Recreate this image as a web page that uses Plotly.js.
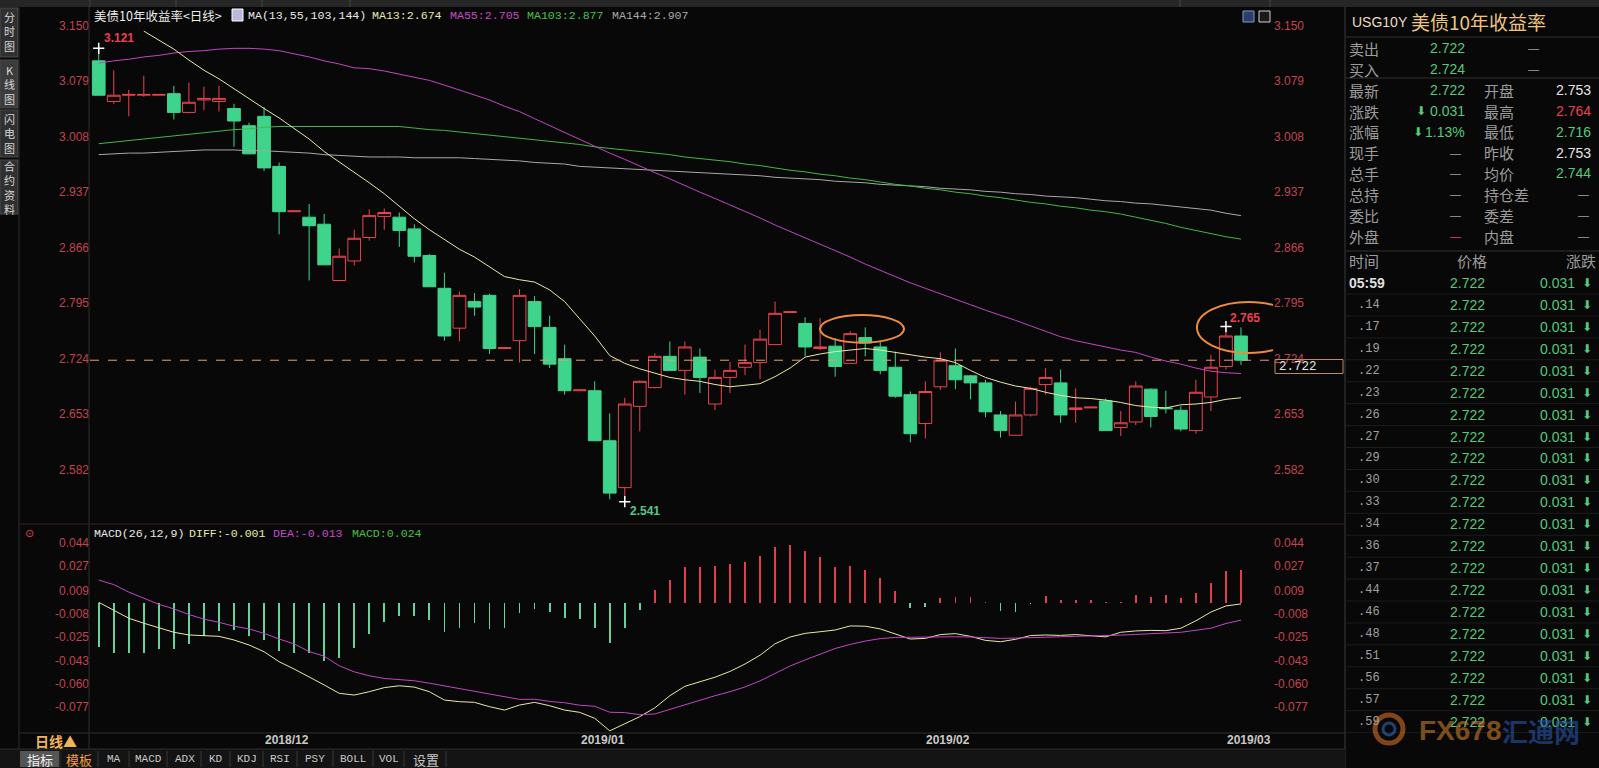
<!DOCTYPE html>
<html><head><meta charset="utf-8">
<script src="https://cdn.plot.ly/plotly-3.0.1.min.js"></script>
<style>html,body{margin:0;padding:0;background:#080808;overflow:hidden}#chart{width:1599px;height:768px}</style>
</head><body><div id="chart"></div>
<script>
// ---------------- DATA ----------------
const dates = ['2018-11-16','2018-11-19','2018-11-20','2018-11-21','2018-11-22','2018-11-23','2018-11-26','2018-11-27','2018-11-28','2018-11-29','2018-11-30',
'2018-12-03','2018-12-04','2018-12-05','2018-12-06','2018-12-07','2018-12-10','2018-12-11','2018-12-12','2018-12-13','2018-12-14','2018-12-17','2018-12-18','2018-12-19','2018-12-20','2018-12-21','2018-12-24','2018-12-25','2018-12-26','2018-12-27','2018-12-28','2018-12-31',
'2019-01-01','2019-01-02','2019-01-03','2019-01-04','2019-01-07','2019-01-08','2019-01-09','2019-01-10','2019-01-11','2019-01-14','2019-01-15','2019-01-16','2019-01-17','2019-01-18','2019-01-21','2019-01-22','2019-01-23','2019-01-24','2019-01-25','2019-01-28','2019-01-29','2019-01-30','2019-01-31',
'2019-02-01','2019-02-04','2019-02-05','2019-02-06','2019-02-07','2019-02-08','2019-02-11','2019-02-12','2019-02-13','2019-02-14','2019-02-15','2019-02-18','2019-02-19','2019-02-20','2019-02-21','2019-02-22','2019-02-25','2019-02-26','2019-02-27','2019-02-28',
'2019-03-01','2019-03-04'];

const open = [3.105,3.053,3.061,3.061,3.061,3.063,3.039,3.055,3.053,3.044,
3.022,3.034,2.970,2.912,2.905,2.896,2.824,2.849,2.879,2.906,
2.905,2.890,2.856,2.814,2.763,2.797,2.805,2.737,2.747,2.797,
2.764,2.724,2.683,2.683,2.619,2.559,2.663,2.687,2.727,2.709,
2.726,2.666,2.700,2.713,2.719,2.742,2.783,2.769,2.737,2.740,
2.718,2.751,2.739,2.713,2.678,2.641,2.688,2.715,2.702,2.693,
2.652,2.626,2.652,2.691,2.693,2.659,2.661,2.670,2.636,2.643,
2.685,2.661,2.658,2.632,2.675,2.714,2.753];
const high = [3.121,3.093,3.068,3.086,3.062,3.073,3.077,3.072,3.073,3.050,
3.026,3.046,2.975,2.913,2.922,2.909,2.865,2.889,2.915,2.916,
2.911,2.896,2.858,2.834,2.810,2.808,2.807,2.738,2.813,2.804,
2.779,2.742,2.684,2.695,2.654,2.674,2.696,2.731,2.746,2.746,
2.737,2.710,2.720,2.742,2.761,2.797,2.784,2.777,2.776,2.750,
2.759,2.764,2.747,2.733,2.682,2.695,2.732,2.737,2.703,2.697,
2.657,2.669,2.688,2.712,2.710,2.686,2.662,2.673,2.657,2.695,
2.686,2.683,2.663,2.697,2.729,2.765,2.764];
const low = [3.061,3.050,3.034,3.059,3.061,3.030,3.038,3.042,3.040,2.995,
2.986,2.964,2.883,2.912,2.824,2.844,2.824,2.843,2.875,2.889,
2.867,2.847,2.816,2.747,2.746,2.779,2.730,2.737,2.719,2.730,
2.712,2.678,2.683,2.619,2.544,2.541,2.631,2.686,2.709,2.678,
2.680,2.658,2.680,2.703,2.698,2.742,2.783,2.727,2.735,2.701,
2.718,2.727,2.704,2.674,2.617,2.622,2.684,2.685,2.672,2.649,
2.623,2.626,2.650,2.678,2.642,2.642,2.661,2.632,2.625,2.639,
2.636,2.654,2.631,2.628,2.657,2.710,2.716];
const close = [3.061,3.061,3.062,3.062,3.062,3.039,3.052,3.057,3.057,3.028,
2.986,2.968,2.912,2.913,2.894,2.844,2.855,2.878,2.907,2.911,
2.888,2.855,2.816,2.753,2.805,2.790,2.737,2.738,2.805,2.765,
2.717,2.683,2.684,2.619,2.552,2.666,2.695,2.727,2.709,2.739,
2.700,2.700,2.709,2.719,2.749,2.782,2.784,2.739,2.739,2.714,
2.756,2.744,2.709,2.676,2.628,2.682,2.722,2.697,2.693,2.656,
2.632,2.652,2.686,2.700,2.652,2.661,2.662,2.632,2.642,2.689,
2.650,2.660,2.634,2.681,2.713,2.753,2.722];

const ma13 = [null,null,null,3.143,3.132,3.120,3.106,3.093,3.082,3.069,
3.057,3.044,3.032,3.019,3.005,2.989,2.976,2.962,2.949,2.935,
2.919,2.903,2.889,2.876,2.864,2.854,2.841,2.829,2.825,2.822,
2.812,2.797,2.775,2.753,2.728,2.718,2.711,2.705,2.700,2.697,
2.695,2.691,2.688,2.690,2.692,2.701,2.712,2.726,2.730,2.733,
2.735,2.737,2.735,2.732,2.729,2.726,2.724,2.719,2.709,2.700,
2.694,2.689,2.686,2.681,2.677,2.674,2.673,2.671,2.668,2.664,
2.662,2.661,2.665,2.666,2.668,2.672,2.674];
const ma55 = [3.102,3.105,3.107,3.110,3.112,3.115,3.117,3.118,3.120,3.121,
3.121,3.120,3.118,3.114,3.110,3.105,3.101,3.096,3.095,3.092,
3.088,3.084,3.080,3.074,3.068,3.062,3.055,3.047,3.040,3.031,
3.022,3.013,3.004,2.995,2.987,2.979,2.970,2.962,2.954,2.945,
2.937,2.929,2.921,2.912,2.904,2.895,2.887,2.878,2.871,2.862,
2.854,2.845,2.837,2.828,2.821,2.814,2.807,2.799,2.793,2.786,
2.780,2.773,2.766,2.759,2.752,2.747,2.743,2.739,2.735,2.732,
2.726,2.721,2.717,2.712,2.708,2.706,2.705];
const ma103 = [2.999,3.001,3.003,3.005,3.007,3.009,3.011,3.013,3.015,3.017,
3.018,3.020,3.021,3.021,3.021,3.021,3.021,3.021,3.021,3.021,
3.021,3.019,3.017,3.016,3.014,3.012,3.010,3.008,3.006,3.004,
3.002,3.000,2.998,2.995,2.993,2.991,2.989,2.987,2.985,2.982,
2.980,2.978,2.976,2.973,2.971,2.968,2.965,2.963,2.960,2.958,
2.955,2.953,2.950,2.947,2.945,2.942,2.940,2.937,2.935,2.932,
2.930,2.927,2.924,2.922,2.919,2.917,2.914,2.912,2.909,2.905,
2.901,2.897,2.892,2.888,2.884,2.880,2.877];
const ma144 = [2.985,2.986,2.987,2.987,2.988,2.989,2.990,2.991,2.991,2.991,
2.990,2.990,2.989,2.988,2.987,2.985,2.984,2.983,2.982,2.982,
2.982,2.981,2.981,2.981,2.981,2.980,2.979,2.978,2.977,2.975,
2.974,2.973,2.970,2.969,2.968,2.967,2.966,2.965,2.964,2.963,
2.962,2.961,2.960,2.959,2.958,2.956,2.955,2.954,2.953,2.951,
2.950,2.949,2.947,2.946,2.945,2.944,2.942,2.941,2.940,2.938,
2.937,2.935,2.934,2.932,2.931,2.930,2.928,2.926,2.925,2.923,
2.922,2.920,2.918,2.916,2.914,2.910,2.907];

const macdHist = [-0.0327,-0.0376,-0.0376,-0.0371,-0.0346,-0.0346,-0.0307,-0.0247,-0.0208,-0.0203,
-0.0245,-0.0277,-0.0359,-0.0371,-0.0376,-0.0430,-0.0413,-0.0339,-0.0235,-0.0141,
-0.0097,-0.0097,-0.0129,-0.0215,-0.0186,-0.0154,-0.0196,-0.0191,-0.0079,-0.0050,
-0.0067,-0.0117,-0.0121,-0.0191,-0.0297,-0.0191,-0.0055,0.0093,0.0167,0.0266,
0.0266,0.0274,0.0286,0.0303,0.0345,0.0414,0.0427,0.0385,0.0336,0.0266,
0.0271,0.0242,0.0180,0.0086,-0.0038,-0.0030,0.0036,0.0044,0.0044,0.0003,
-0.0062,-0.0067,-0.0010,0.0049,0.0019,0.0019,0.0019,0.0003,0.0003,0.0056,
0.0044,0.0056,0.0032,0.0069,0.0143,0.0234,0.0242];
const diff = [0.0002,-0.0055,-0.0116,-0.0153,-0.0186,-0.0220,-0.0240,-0.0247,-0.0250,-0.0277,
-0.0314,-0.0364,-0.0438,-0.0492,-0.0549,-0.0610,-0.0672,-0.0685,-0.0660,-0.0630,
-0.0616,-0.0626,-0.0660,-0.0722,-0.0734,-0.0739,-0.0771,-0.0796,-0.0759,-0.0739,
-0.0764,-0.0796,-0.0813,-0.0857,-0.0950,-0.0900,-0.0845,-0.0780,-0.0690,-0.0620,
-0.0585,-0.0553,-0.0510,-0.0455,-0.0390,-0.0305,-0.0255,-0.0228,-0.0216,-0.0203,
-0.0173,-0.0175,-0.0195,-0.0235,-0.0270,-0.0265,-0.0237,-0.0230,-0.0250,-0.0280,
-0.0290,-0.0272,-0.0244,-0.0240,-0.0243,-0.0237,-0.0244,-0.0254,-0.0220,-0.0210,
-0.0206,-0.0208,-0.0190,-0.0135,-0.0070,-0.0025,-0.0010];
const dea = [0.0167,0.0133,0.0078,0.0033,-0.0013,-0.0047,-0.0088,-0.0123,-0.0146,-0.0175,
-0.0195,-0.0228,-0.0270,-0.0306,-0.0363,-0.0397,-0.0468,-0.0513,-0.0542,-0.0562,
-0.0569,-0.0579,-0.0597,-0.0617,-0.0640,-0.0660,-0.0676,-0.0700,-0.0717,-0.0716,
-0.0732,-0.0742,-0.0760,-0.0768,-0.0812,-0.0815,-0.0830,-0.0825,-0.0790,-0.0755,
-0.0720,-0.0690,-0.0660,-0.0625,-0.0580,-0.0525,-0.0470,-0.0425,-0.0380,-0.0340,
-0.0310,-0.0285,-0.0267,-0.0258,-0.0257,-0.0255,-0.0254,-0.0253,-0.0255,-0.0260,
-0.0265,-0.0263,-0.0258,-0.0255,-0.0253,-0.0250,-0.0248,-0.0245,-0.0241,-0.0236,
-0.0232,-0.0226,-0.0220,-0.0205,-0.0190,-0.0155,-0.0130];

const priceTicks = [3.150,3.079,3.008,2.937,2.866,2.795,2.724,2.653,2.582];
const macdTicks = [0.044,0.027,0.009,-0.008,-0.025,-0.043,-0.060,-0.077];
const monthDates = ['2018-12-03','2019-01-01','2019-02-01','2019-03-01'];
const monthLabels = ['2018/12','2019/01','2019/02','2019/03'];
const lastPrice = 2.722;

// quote panel
const qLab1 = ['卖出','买入','最新','涨跌','涨幅','现手','总手','总持','委比','外盘'];
const qVal1 = ['2.722','2.724','2.722','0.031','1.13%','—','—','—','—','—'];
const qLab2 = ['','','开盘','最高','最低','昨收','均价','持仓差','委差','内盘'];
const qVal2 = ['—','—','2.753','2.764','2.716','2.753','2.744','—','—','—'];
const tickTimes = ['05:59','.14','.17','.19','.22','.23','.26','.27','.29','.30','.33','.34','.36','.37','.44','.46','.48','.51','.56','.57','.59'];
const tickPrices = Array(21).fill('2.722');
const tickChanges = Array(21).fill('0.031');
const tabs = ['MA','MACD','ADX','KD','KDJ','RSI','PSY','BOLL','VOL','设置'];

// ---------------- LAYOUT HELPERS ----------------
const W=1599, H=768;
const px=x=>x/W, py=y=>1-y/H;
const SANS='Liberation Sans, Arial, sans-serif';
const MONO='Liberation Mono, DejaVu Sans Mono, monospace';
const CJK='Noto Sans CJK SC, sans-serif';
const GREEN='#55c97c', RED='#e8414f', AX='#c4434f', GRAY='#a4a4a4';
function T(text,x,y,o){o=o||{};return {text:text,x:px(x),y:py(y),xref:'paper',yref:'paper',showarrow:false,
  xanchor:o.xa||'left',yanchor:'middle',font:{family:o.f||SANS,size:o.s||12,color:o.c||'#ddd'}};}
function L(x0,y0,x1,y1,c,w,dash){return {type:'line',xref:'paper',yref:'paper',x0:px(x0),y0:py(y0),x1:px(x1),y1:py(y1),line:{color:c,width:w||1,dash:dash||'solid'},layer:'above'};}
function R(x0,y0,x1,y1,fill,lc){return {type:'rect',xref:'paper',yref:'paper',x0:px(x0),y0:py(y0),x1:px(x1),y1:py(y1),fillcolor:fill,line:{color:lc||fill,width:lc?1:0},layer:'above'};}

const X0=90, X1=1273;
const idx0=-0.58, idx1=78.13;

// ---------------- TRACES ----------------
const traces = [];
traces.push({type:'candlestick',x:dates,open:open,high:high,low:low,close:close,xaxis:'x',yaxis:'y',
  increasing:{line:{color:'#e8454f',width:1},fillcolor:'rgba(0,0,0,0)'},
  decreasing:{line:{color:'#3fd48b',width:1},fillcolor:'#3fd48b'},
  whiskerwidth:0,hoverinfo:'skip'});
const maDefs=[[ma144,'#a8a8a8'],[ma103,'#45b545'],[ma55,'#c246c2'],[ma13,'#e8e8a8']];
maDefs.forEach(d=>traces.push({type:'scatter',mode:'lines',x:dates,y:d[0],line:{color:d[1],width:1},xaxis:'x',yaxis:'y',hoverinfo:'skip'}));
traces.push({type:'scatter',mode:'markers',x:[dates[0],dates[35],dates[75]],y:[high[0],low[35],high[75]],
  marker:{symbol:'cross-thin',size:8,line:{color:'#ffffff',width:1.5}},xaxis:'x',yaxis:'y',hoverinfo:'skip'});
traces.push({type:'bar',x:dates,y:macdHist,width:0.12,marker:{color:macdHist.map(v=>v>=0?'#e0404e':'#64d49c'),line:{width:0}},xaxis:'x2',yaxis:'y2',hoverinfo:'skip'});
traces.push({type:'scatter',mode:'lines',x:dates,y:diff,line:{color:'#e8e8a8',width:1},xaxis:'x2',yaxis:'y2',hoverinfo:'skip'});
traces.push({type:'scatter',mode:'lines',x:dates,y:dea,line:{color:'#c246c2',width:1},xaxis:'x2',yaxis:'y2',hoverinfo:'skip'});
traces.push({type:'scatter',mode:'lines',x:[dates[0]],y:[null],xaxis:'x',yaxis:'y3',hoverinfo:'skip'});
traces.push({type:'scatter',mode:'lines',x:[dates[0]],y:[null],xaxis:'x2',yaxis:'y4',hoverinfo:'skip'});

// ---------------- AXES ----------------
const pTop=3.1598, pBot=2.5125, mTop=0.0582, mBot=-0.0966;
const yCommon={showgrid:false,zeroline:false,ticks:'',showline:false,fixedrange:true,
  tickfont:{family:SANS,size:12,color:AX}};
const layout = {
  width:W,height:H,margin:{l:0,r:0,t:0,b:0},paper_bgcolor:'#080808',plot_bgcolor:'#080808',
  showlegend:false,hovermode:false,dragmode:false,boxgap:0.08,boxgroupgap:0.08,bargap:0,
  xaxis:{type:'category',domain:[px(X0),px(X1)],range:[idx0,idx1],showticklabels:false,showgrid:false,zeroline:false,anchor:'y',rangeslider:{visible:false},fixedrange:true},
  xaxis2:{type:'category',matches:'x',domain:[px(X0),px(X1)],range:[idx0,idx1],showticklabels:false,showgrid:false,zeroline:false,anchor:'y2',fixedrange:true},
  yaxis:Object.assign({},yCommon,{domain:[py(524),py(18)],range:[pBot,pTop],tickvals:priceTicks,ticktext:priceTicks.map(v=>v.toFixed(3)),side:'left',anchor:'x'}),
  yaxis3:Object.assign({},yCommon,{overlaying:'y',range:[pBot,pTop],tickvals:priceTicks,ticktext:priceTicks.map(v=>v.toFixed(3)),side:'right',anchor:'x'}),
  yaxis2:Object.assign({},yCommon,{domain:[py(733),py(524)],range:[mBot,mTop],tickvals:macdTicks,ticktext:macdTicks.map(v=>v.toFixed(3)),side:'left',anchor:'x2'}),
  yaxis4:Object.assign({},yCommon,{overlaying:'y2',range:[mBot,mTop],tickvals:macdTicks,ticktext:macdTicks.map(v=>v.toFixed(3)),side:'right',anchor:'x2'}),
  shapes:[], annotations:[]
};
const S=layout.shapes, A=layout.annotations;

// ---------------- FRAME / CHROME ----------------
S.push(R(0,0,W,7,'#262626'));
[90,176,262,350,1180,1270].forEach(x=>S.push(L(x,0,x,7,'#444',1)));
// left sidebar tabs
[[8,57],[60,108],[110,157],[160,214]].forEach((r,i)=>S.push(R(0,r[0],18,r[1],i===1?'#3c3c3c':'#303030','#4a4a4a')));
S.push(L(19,7,19,768,'#2e2e2e',1));
S.push(L(89,7,89,749,'#2e2e2e',1));
S.push(L(1345,7,1345,768,'#3a3a3a',1));
S.push(L(19,524,1345,524,'#3e2020',1));
S.push(L(19,733,1345,733,'#2e2e2e',1));
S.push(R(0,749,1345,768,'#141414'));
S.push(L(0,749,1345,749,'#2e2e2e',1));
S.push(R(20,751,59,767,'#555555'));
[60,98,129,167,201,230,263,297,333,373,404,446].forEach(x=>S.push(L(x,751,x,767,'#363636',1)));
// small icons top right of chart
S.push(R(1243,11,1254,22,'#2a3e66','#7f9ad0'));
S.push(R(1259,11,1270,22,'#1a1a1a','#d0d0d0'));

// sidebar text
[['分<br>时<br>图',32],['K<br>线<br>图',84],['闪<br>电<br>图',134],['合<br>约<br>资<br>料',187]].forEach(t=>
  A.push(T(t[0],9,t[1],{xa:'center',f:CJK,s:11,c:'#d6d6d6'})));

// title rows
A.push(T('美债10年收益率&lt;日线&gt;',92,15,{f:CJK,s:12.5,c:'#ececec'}));
S.push(R(232,9,243,21,'#b8b8d8','#ffffff'));
A.push(T('MA(13,55,103,144)',246,15,{f:MONO,s:11.6,c:'#e8e8e8'}));
A.push(T('MA13:'+ma13[ma13.length-1].toFixed(3),370,15,{f:MONO,s:11.6,c:'#e8e8a8'}));
A.push(T('MA55:'+ma55[ma55.length-1].toFixed(3),448,15,{f:MONO,s:11.6,c:'#c848c8'}));
A.push(T('MA103:'+ma103[ma103.length-1].toFixed(3),525,15,{f:MONO,s:11.6,c:'#48c048'}));
A.push(T('MA144:'+ma144[ma144.length-1].toFixed(3),610,15,{f:MONO,s:11.6,c:'#a8a8a8'}));

A.push(T('⊙',29,533,{xa:'center',f:'DejaVu Sans',s:11,c:'#e04050'}));
A.push(T('MACD(26,12,9)',91.5,533,{f:MONO,s:11.6,c:'#e8e8e8'}));
A.push(T('DIFF:'+diff[diff.length-1].toFixed(3),186.6,533,{f:MONO,s:11.6,c:'#e8e8a8'}));
A.push(T('DEA:'+dea[dea.length-1].toFixed(3),271,533,{f:MONO,s:11.6,c:'#c848c8'}));
A.push(T('MACD:'+macdHist[macdHist.length-1].toFixed(3),349.5,533,{f:MONO,s:11.6,c:'#48c048'}));

// price extremes labels (data anchored)
A.push({text:'<b>'+high[0].toFixed(3)+'</b>',x:dates[0],y:high[0],xref:'x',yref:'y',showarrow:false,xanchor:'left',yanchor:'bottom',xshift:3,yshift:1,font:{family:SANS,size:12,color:RED}});
A.push({text:'<b>'+low[35].toFixed(3)+'</b>',x:dates[35],y:low[35],xref:'x',yref:'y',showarrow:false,xanchor:'left',yanchor:'top',xshift:3,yshift:0,font:{family:SANS,size:12,color:'#55c68a'}});
A.push({text:'<b>'+high[75].toFixed(3)+'</b>',x:dates[75],y:high[75],xref:'x',yref:'y',showarrow:false,xanchor:'left',yanchor:'bottom',xshift:2,yshift:0,font:{family:SANS,size:12,color:RED}});

// current price line and box
S.push({type:'line',xref:'paper',yref:'y',x0:px(X0),x1:px(X1),y0:lastPrice,y1:lastPrice,line:{color:'#e0a070',width:1,dash:'dash'},layer:'above'});
S.push(R(1275,359.5,1343,373.5,'rgba(0,0,0,0)','#c08866'));
A.push(T(lastPrice.toFixed(3),1277,366.5,{f:MONO,s:12.5,c:'#e6e6e6'}));

// ellipses
S.push({type:'circle',xref:'x',yref:'y',x0:47.99,x1:53.58,y0:2.7444,y1:2.7798,line:{color:'#f08a3c',width:2},layer:'above'});
S.push({type:'circle',xref:'x',yref:'y',x0:73.07,x1:79.93,y0:2.7312,y1:2.7965,line:{color:'#f08a3c',width:2},layer:'above'});

// month labels
monthDates.forEach((d,i)=>A.push({text:'<b>'+monthLabels[i]+'</b>',x:d,y:py(740),xref:'x',yref:'paper',showarrow:false,xanchor:'left',yanchor:'middle',xshift:-1,font:{family:SANS,size:12,color:'#c8c8c8'}}));
A.push(T('<b>日线▲</b>',33,741,{f:CJK,s:14,c:'#f0b458'}));

// bottom tabs
A.push(T('指标',39.5,759,{xa:'center',f:CJK,s:13,c:'#f2f2f2'}));
A.push(T('模板',79,759,{xa:'center',f:CJK,s:13,c:'#f0a030'}));
const tabX=[113.5,148,184.5,215.5,246.5,280,314.5,353,388.5,425.5];
tabs.forEach((t,i)=>A.push(T(t,tabX[i],759,{xa:'center',f:/[\u4e00-\u9fff]/.test(t)?CJK:MONO,s:/[\u4e00-\u9fff]/.test(t)?13:11,c:'#c8c8c8'})));

// ---------------- RIGHT QUOTE PANEL ----------------
A.push(T('USG10Y',1350,22,{f:SANS,s:14,c:'#eadcc2'}));
A.push(T('美债10年收益率',1409,21,{f:CJK,s:19,c:'#ecc57e'}));
S.push(L(1346,37,W,37,'#303030',1));
S.push(L(1346,78,W,78,'#303030',1));
S.push(L(1346,251,W,251,'#303030',1));
const qY=[48.3,69,90,111,131.7,152.7,173.3,194,215,236];
const qC1=[GREEN,GREEN,GREEN,GREEN,GREEN,GRAY,GRAY,GRAY,GRAY,RED];
const qC2=[GRAY,GRAY,'#e4e4e4',RED,GREEN,'#e4e4e4',GREEN,GRAY,GRAY,GRAY];
qLab1.forEach((t,i)=>{
  A.push(T(t,1347,qY[i],{f:CJK,s:15,c:'#9c9c9c'}));
  const v=qVal1[i];
  if(v==='—') A.push(T(v,1463,qY[i],{xa:'right',f:SANS,s:11,c:qC1[i]}));
  else A.push(T(v,1467,qY[i],{xa:'right',f:SANS,s:14,c:qC1[i]}));
  if(i===3||i===4) A.push(T('⬇',i===3?1421:1418,qY[i],{xa:'center',f:'DejaVu Sans',s:12,c:GREEN}));
  if(qLab2[i]) A.push(T(qLab2[i],1482,qY[i],{f:CJK,s:15,c:'#9c9c9c'}));
  const v2=qVal2[i];
  if(i<2) A.push(T(v2,1533,qY[i],{xa:'center',f:SANS,s:11,c:GRAY}));
  else if(v2==='—') A.push(T(v2,1591,qY[i],{xa:'right',f:SANS,s:11,c:qC2[i]}));
  else A.push(T(v2,1593,qY[i],{xa:'right',f:SANS,s:14,c:qC2[i]}));
});
A.push(T('时间',1347,260,{f:CJK,s:15,c:'#9c9c9c'}));
A.push(T('价格',1472,260,{xa:'center',f:CJK,s:15,c:'#9c9c9c'}));
A.push(T('涨跌',1598,260,{xa:'right',f:CJK,s:15,c:'#9c9c9c'}));
tickTimes.forEach((t,k)=>{
  const y=283+k*21.93;
  if(k===0) A.push(T('<b>'+t+'</b>',1347,y,{f:SANS,s:14,c:'#dedede'}));
  else A.push(T(t,1382,y,{xa:'right',f:MONO,s:12,c:'#a0a0a0'}));
  A.push(T(tickPrices[k],1487,y,{xa:'right',f:SANS,s:14,c:GREEN}));
  A.push(T(tickChanges[k],1577,y,{xa:'right',f:SANS,s:14,c:GREEN}));
  A.push(T('⬇',1587,y,{xa:'center',f:'DejaVu Sans',s:12,c:GREEN}));
  S.push(L(1346,y+11,W,y+11,'#1c1c1c',1));
});
// watermark
S.push({type:'circle',xref:'paper',yref:'paper',x0:px(1375),x1:px(1403),y0:py(743),y1:py(715),line:{color:'rgba(230,120,40,0.55)',width:5},layer:'above'});
S.push({type:'circle',xref:'paper',yref:'paper',x0:px(1383),x1:px(1395),y0:py(735),y1:py(723),line:{color:'rgba(60,110,200,0.55)',width:3},layer:'above'});
A.push(T('<b>FX678</b>',1417,730,{f:SANS,s:28,c:'rgba(200,125,40,0.6)'}));
A.push(T('<b>汇通网</b>',1500,730,{f:CJK,s:26,c:'rgba(40,85,170,0.6)'}));

Plotly.newPlot('chart',traces,layout,{staticPlot:true,displayModeBar:false});
</script></body></html>
